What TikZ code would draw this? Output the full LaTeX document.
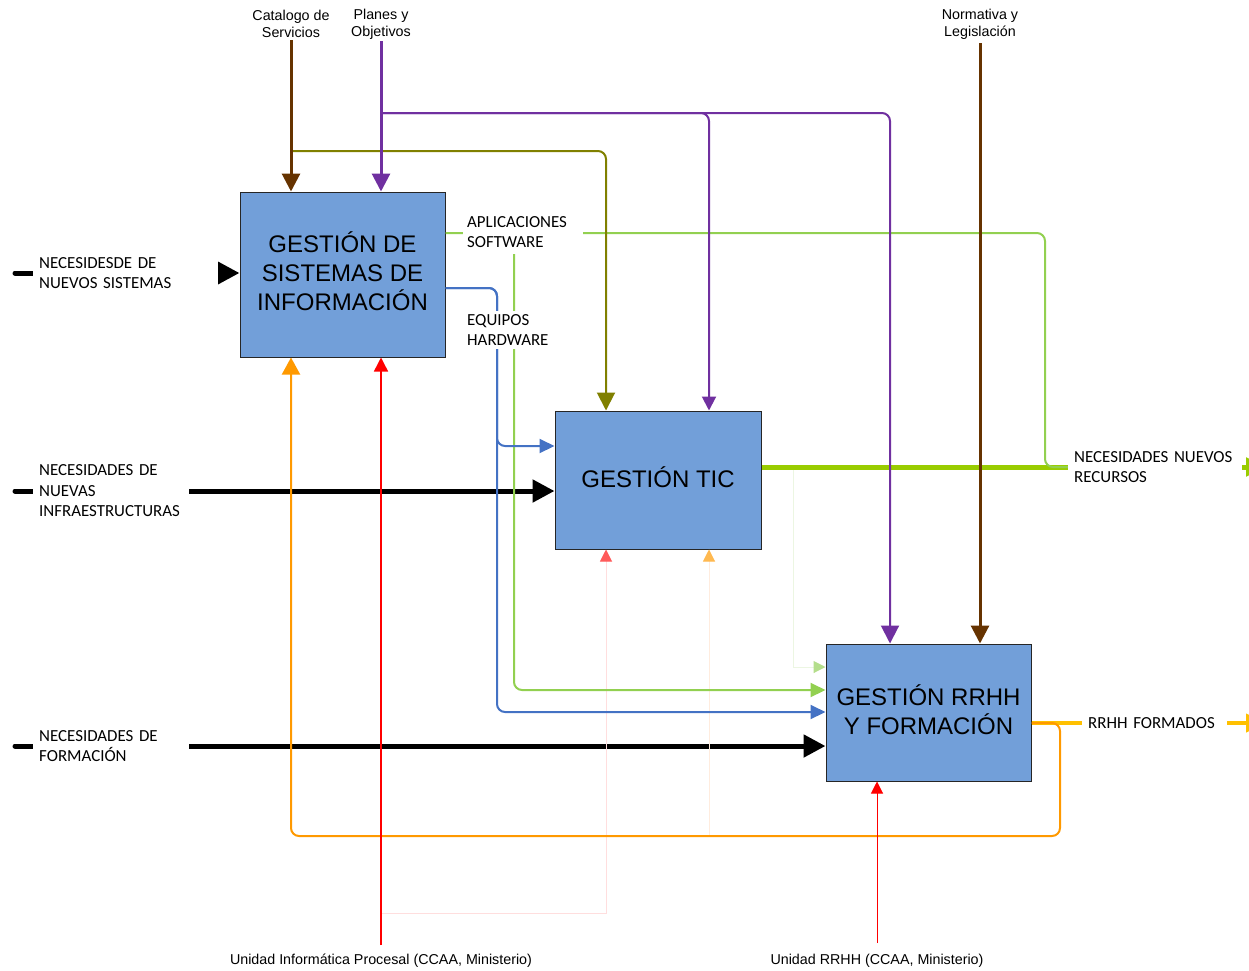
\documentclass[tikz,border=0pt]{standalone}
\usepackage{fontspec}
\setmainfont{Liberation Sans}
\newfontfamily\calfont{Carlito}
\usetikzlibrary{arrows.meta}
\definecolor{boxblue}{RGB}{114,159,217}
\definecolor{brownc}{RGB}{102,51,0}
\definecolor{purplec}{RGB}{112,48,160}
\definecolor{olivec}{RGB}{128,128,0}
\definecolor{gthinc}{RGB}{146,208,80}
\definecolor{gthickc}{RGB}{153,204,0}
\definecolor{bluec}{RGB}{68,114,196}
\definecolor{othinc}{RGB}{255,153,0}
\definecolor{othickc}{RGB}{255,192,0}
\definecolor{fredl}{RGB}{255,222,222}
\definecolor{fredt}{RGB}{255,90,90}
\definecolor{forl}{RGB}{255,236,222}
\definecolor{fort}{RGB}{255,185,80}
\definecolor{fgrl}{RGB}{236,246,226}
\definecolor{fgrt}{RGB}{180,222,140}
\tikzset{
  proc/.style={draw=black!85, line width=1pt, fill=boxblue, inner sep=0pt},
  proctxt/.style={inner sep=0pt, align=center, font=\fontsize{24}{29}\selectfont},
  lab/.style={fill=white, anchor=west, align=left, inner ysep=3pt,
    font=\calfont\fontsize{16.9}{20.5}\selectfont},
  toplab/.style={align=center, inner sep=0pt, font=\fontsize{14.3}{17}\selectfont},
  tipbig/.style={-{Triangle[length=22pt,width=22pt]}},
  tipmid/.style={-{Triangle[length=18pt,width=18pt]}},
  tipsm/.style={-{Triangle[length=15pt,width=14pt]}},
  tipxs/.style={-{Triangle[length=12pt,width=12pt]}},
  blk/.style={line width=5pt, line cap=round, black},
}
\begin{document}
\begin{tikzpicture}[x=1pt,y=-1pt]
\useasboundingbox (0,0) rectangle (1249,970);
\clip (0,0) rectangle (1249,970);

% process boxes
\node[proc, minimum width=205pt, minimum height=165pt] (gsi) at (342.5,274.5) {};
\node[proctxt] (gsit) at ([yshift=3pt]gsi.center) {GESTIÓN DE\\SISTEMAS DE\\INFORMACIÓN};
\node[proc, minimum width=206pt, minimum height=138pt] (tic) at (658,480) {};
\node[proctxt] (tict) at ([yshift=3pt]tic.center) {GESTIÓN TIC};
\node[proc, minimum width=205pt, minimum height=137pt] (rrhh) at (928.5,712.5) {};
\node[proctxt] (rrhht) at ([yshift=3pt]rrhh.center) {GESTIÓN RRHH\\Y FORMACIÓN};

% top / bottom labels
\node[toplab] (cat) at (291,24) {Catalogo de\\Servicios};
\node[toplab] (pla) at (381,24) {Planes y\\Objetivos};
\node[toplab] (nor) at (980,24) {Normativa y\\Legislación};
\node[toplab] (uip) at (381,961) {Unidad Informática Procesal (CCAA, Ministerio)};
\node[toplab] (urh) at (877,961) {Unidad RRHH (CCAA, Ministerio)};

% helper coordinates
\coordinate (in1) at (15,273);
\coordinate (in2) at (15,491);
\coordinate (in3) at (15,746);
\coordinate (jo) at (291,151);
\coordinate (xo) at (606,0);
\coordinate (jp) at (381,113);
\coordinate (xp1) at (709,0);
\coordinate (xp2) at (890,0);
\coordinate (r1) at (381,945);
\coordinate (r2) at (877,943);
\coordinate (fr) at (381,913);
\coordinate (fo) at (709,836);
\coordinate (fg) at (793,467);

% black inputs
\draw[blk, tipbig] (in1) -- (gsi.west |- in1);
\draw[blk, tipbig] (in2) -- (tic.west |- in2);
\draw[blk, tipbig] (in3) -- (rrhh.west |- in3);

% faint connectors
\draw[fredl, line width=1pt, -{Triangle[length=12pt,width=12pt,color=fredt]}] (fr) -| (tic.south -| xo);
\draw[forl, line width=1pt, -{Triangle[length=12pt,width=12pt,color=fort]}] (fo) -- (tic.south -| xp1);
\draw[fgrl, line width=1pt, -{Triangle[length=12pt,width=12pt,color=fgrt]}] (fg) |- (rrhh.west |- 0,667);

% thick outputs
\draw[gthickc, line width=5pt, -{Triangle[length=20pt,width=18pt]}] (tic.east |- fg) -- (1266,467);
\draw[othickc, line width=4pt, -{Triangle[length=20pt,width=18pt]}] (rrhh.east |- 0,723) -- (1266,723);

% software (green)
\draw[gthinc, line width=2pt, rounded corners=8pt] (gsi.east |- 0,233) -| (1045,467) -- (1068,467);
\draw[gthinc, line width=2pt, rounded corners=8pt, tipsm] (514,233) |- (rrhh.west |- 0,690);

% hardware (blue)
\draw[bluec, line width=2pt, rounded corners=8pt, tipsm] (gsi.east |- 0,288) -| (497,446) -- (tic.west |- 0,446);
\draw[bluec, line width=2pt, rounded corners=8pt, tipsm] (gsi.east |- 0,288) -| (497,712) -- (rrhh.west |- 0,712);

% olive branch
\draw[olivec, line width=2pt, rounded corners=8pt, tipmid] (jo) -| (tic.north -| xo);

% orange feedback
\draw[othinc, line width=2pt, rounded corners=8pt, -{Triangle[length=17pt,width=18pt]}] (rrhh.east |- 0,723) -| (1060,836) -| (gsi.south -| cat.south);

% red mechanisms
\draw[red, line width=1.5pt, -{Triangle[length=14pt,width=14pt]}] (r1) -- (gsi.south -| r1);
\draw[red, line width=1pt, tipxs] (r2) -- (rrhh.south -| r2);

% purple controls
\draw[purplec, line width=2pt, rounded corners=8pt, -{Triangle[length=14pt,width=14pt]}] (jp) -| (tic.north -| xp1);
\draw[purplec, line width=2pt, rounded corners=8pt, tipmid] (jp) -| (rrhh.north -| xp2);
\draw[purplec, line width=3pt, tipmid, shorten <=2pt] (pla.south) -- (gsi.north -| pla.south);

% brown controls
\draw[brownc, line width=3pt, tipmid, shorten <=2pt] (cat.south) -- (gsi.north -| cat.south);
\draw[brownc, line width=3pt, tipmid, shorten <=4pt] (nor.south) -- (rrhh.north -| nor.south);

% labels on connectors
\node[lab, text width=173pt, inner xsep=6pt] (n1) at (33,273) {NECESIDESDE DE\\NUEVOS SISTEMAS};
\node[lab, text width=144pt, inner xsep=6pt] (n2) at (33,491) {NECESIDADES DE\\NUEVAS\\INFRAESTRUCTURAS};
\node[lab, text width=144pt, inner xsep=6pt] (n3) at (33,746) {NECESIDADES DE\\FORMACIÓN};
\node[lab, text width=112pt, inner xsep=4pt, inner ysep=6pt] (aps) at (463,232) {APLICACIONES\\SOFTWARE};
\node[lab, text width=86pt, inner xsep=4pt] (eqh) at (463,330) {EQUIPOS\\HARDWARE};
\node[lab, text width=162pt, inner xsep=6pt] (nnr) at (1068,467) {NECESIDADES NUEVOS\\RECURSOS};
\node[lab, text width=133pt, inner xsep=6pt] (rfo) at (1082,723) {RRHH FORMADOS};
\end{tikzpicture}
\end{document}
